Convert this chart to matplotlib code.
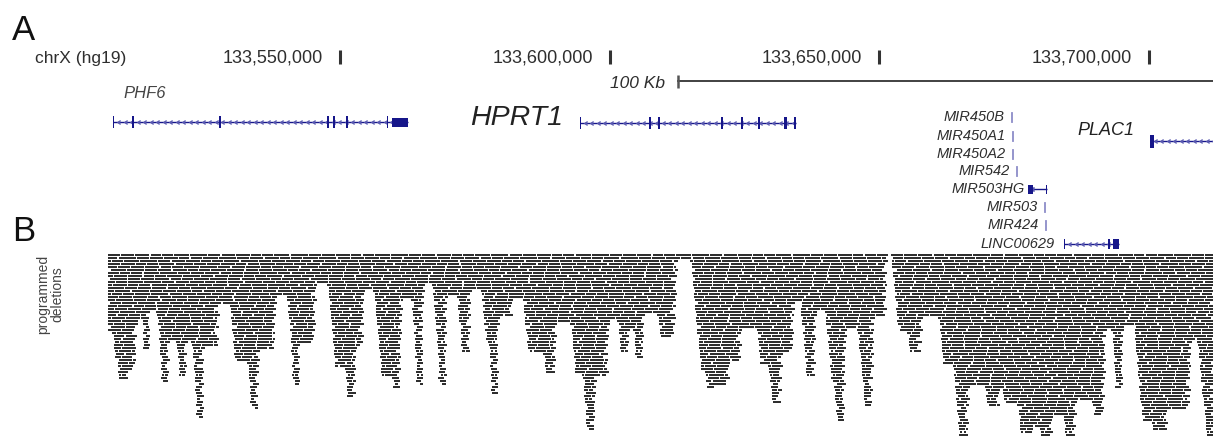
import numpy as np
import matplotlib.pyplot as plt

plt.rcParams['font.family'] = ['Liberation Sans', 'DejaVu Sans']

# ---- genomic window (chrX, hg19, in kb) ----
VIEW_KB = (133486.97, 133711.85)
KB_PER_PX = (VIEW_KB[1] - VIEW_KB[0]) / 1213

tick_kb = [133550, 133600, 133650, 133700]
tick_labels = ["133,550,000", "133,600,000", "133,650,000", "133,700,000"]
scalebar_kb = (133612.6, 133712.6)   # 100 Kb

# ---- genes (kb) ----
phf6_span = (133507.92, 133562.61)
phf6_exons = [(133507.92, 133508.15), (133511.45, 133511.82), (133527.58, 133527.95),
              (133547.60, 133547.97), (133548.70, 133549.07), (133551.10, 133551.45),
              (133558.75, 133558.95)]
phf6_utr = [(133559.64, 133562.61)]

hprt1_span = (133594.45, 133634.50)
hprt1_exons = [(133594.45, 133594.75), (133607.30, 133607.65), (133608.95, 133609.30),
               (133620.65, 133620.95), (133624.40, 133624.70), (133627.50, 133627.80),
               (133632.35, 133632.95), (133634.20, 133634.50)]

plac1_span = (133700.17, 133713.0)
plac1_exons = [(133700.17, 133700.91)]

mir503hg_span = (133677.55, 133681.07)
mir503hg_exons = [(133677.55, 133678.48), (133680.85, 133681.07)]

linc_span = (133684.23, 133694.42)
linc_exons = [(133684.23, 133684.40), (133692.40, 133692.70), (133693.30, 133694.42)]

mir_names = ["MIR450B", "MIR450A1", "MIR450A2", "MIR542", "MIR503", "MIR424"]
mir_kb = [133674.58, 133674.77, 133674.77, 133675.51, 133680.70, 133680.89]

# ---- programmed deletions: packed depth (rows) between breakpoints (kb) ----
del_edges_kb = [133506.99, 133507.73, 133508.66, 133511.07, 133512.55, 133513.48,
                133514.78, 133515.89, 133518.49, 133519.60, 133521.82, 133522.38,
                133524.97, 133527.76, 133529.61, 133532.76, 133535.17, 133538.32,
                133540.18, 133542.59, 133545.74, 133547.59, 133550.93, 133553.15,
                133554.64, 133556.12, 133559.64, 133561.68, 133563.17, 133565.76,
                133567.06, 133570.02, 133571.69, 133574.47, 133576.14, 133577.44,
                133579.67, 133582.08, 133583.93, 133587.64, 133590.23, 133592.64,
                133594.87, 133597.65, 133600.06, 133601.36, 133603.77, 133604.32,
                133606.55, 133608.77, 133612.66, 133614.89, 133617.67, 133619.89,
                133622.30, 133624.53, 133627.31, 133629.35, 133632.13, 133634.36,
                133635.28, 133638.43, 133639.92, 133641.40, 133644.00, 133645.85,
                133649.19, 133651.60, 133652.15, 133655.12, 133658.09, 133660.87,
                133663.65, 133666.80, 133669.58, 133672.36, 133672.92, 133675.51,
                133678.48, 133679.78, 133682.19, 133684.04, 133686.64, 133689.42,
                133692.20, 133692.94, 133695.35, 133697.02, 133700.54, 133703.51,
                133707.95, 133708.88, 133711.85]
del_rows = [26, 35, 42, 39, 22, 32, 19, 43, 29, 41, 29, 55, 31, 17, 36, 52, 32, 14,
            44, 30, 10, 38, 48, 31, 12, 41, 45, 15, 44, 10, 44, 14, 33, 12, 29, 47,
            21, 15, 33, 40, 23, 40, 59, 41, 22, 33, 25, 35, 20, 28, 2, 39, 45, 44,
            36, 25, 37, 50, 33, 16, 41, 19, 42, 56, 25, 51, 21, 0, 26, 33, 21, 37,
            61, 44, 51, 45, 50, 60, 58, 61, 54, 61, 49, 54, 25, 45, 24, 56, 59, 52,
            29, 61]

GENE_C = '#16168a'
CHEV_C = '#5858b0'
MIR_C = '#8c8cc8'
TXT_C = '#2e2e2e'

fig = plt.figure(figsize=(12.13, 4.39), dpi=100)
ax = fig.add_axes([0, 0, 1, 1])
ax.set_xlim(VIEW_KB)
ax.set_ylim(439, 0)
ax.axis('off')


def px(n):
    return n * KB_PER_PX


def draw_gene(span, exons, y, utr=(), tall=12, short=9, chev=True):
    ax.plot(span, [y, y], color=GENE_C, lw=1.0, solid_capstyle='butt', zorder=2)
    if chev:
        xs = np.arange(span[0] + px(4), span[1] - px(2), px(6.5))
        ax.plot(xs, np.full_like(xs, y), ls='none', marker=4, ms=3.2,
                mew=0.7, color=CHEV_C, zorder=2)
    for s, e in exons:
        ax.add_patch(plt.Rectangle((s, y - tall / 2), e - s, tall,
                                   color=GENE_C, lw=0, zorder=3))
    for s, e in utr:
        ax.add_patch(plt.Rectangle((s, y - short / 2), e - s, short,
                                   color=GENE_C, lw=0, zorder=3))


# ---- panel labels and header ----
fig.text(12 / 1213, 1 - 30 / 439, "A", fontsize=25, color='#111', va='center')
fig.text(12 / 1213, 1 - 232 / 439, "B", fontsize=25, color='#111', va='center')
fig.text(35 / 1213, 1 - 58 / 439, "chrX (hg19)", fontsize=12.5, color=TXT_C, va='center')

for t, lab in zip(tick_kb, tick_labels):
    ax.text(t - px(17), 58, lab, fontsize=13, color=TXT_C, ha='right', va='center')
    ax.plot([t, t], [51, 65], color='#333', lw=2.2, solid_capstyle='butt')

# scale bar
ax.plot(scalebar_kb, [82, 82], color='#333', lw=1.3)
for s in scalebar_kb:
    ax.plot([s, s], [76, 89], color='#555', lw=1.8, solid_capstyle='butt')
ax.text(scalebar_kb[0] - px(13), 83, "100 Kb", fontsize=12.5, style='italic',
        color=TXT_C, ha='right', va='center')

# ---- genes ----
draw_gene(phf6_span, phf6_exons, 123, utr=phf6_utr)
ax.text(phf6_span[0] + px(10), 93, "PHF6", fontsize=12, style='italic',
        color='#444', ha='left', va='center')

draw_gene(hprt1_span, hprt1_exons, 124)
ax.text(hprt1_span[0] - px(17), 118, "HPRT1", fontsize=20.5, style='italic',
        color='#222', ha='right', va='center')

draw_gene(plac1_span, plac1_exons, 142, tall=13)
ax.text(plac1_span[0] - px(16), 131, "PLAC1", fontsize=13, style='italic',
        color='#222', ha='right', va='center')

mir_y = [118, 137, 155, 172, 208, 226]
for name, k, y in zip(mir_names, mir_kb, mir_y):
    ax.plot([k, k], [y - 4.5, y + 4.5], color=MIR_C, lw=1.3)
    ax.text(k - px(7), y - 1, name, fontsize=10.5, style='italic', color=TXT_C,
            ha='right', va='center')

draw_gene(mir503hg_span, mir503hg_exons, 190, tall=9, chev=False)
ax.plot([mir503hg_span[0] + px(3)], [190], ls='none', marker=4, ms=3,
        color=CHEV_C)
ax.text(mir503hg_span[0] - px(3), 189, "MIR503HG", fontsize=10.5, style='italic',
        color=TXT_C, ha='right', va='center')

draw_gene(linc_span, linc_exons, 245, tall=10)
ax.text(linc_span[0] - px(9), 244, "LINC00629", fontsize=10.5, style='italic',
        color=TXT_C, ha='right', va='center')

# ---- programmed deletions track ----
fig.text(50 / 1213, 1 - 294 / 439, "programmed\ndeletions", fontsize=10,
         color='#444', rotation=90, ha='center', va='center', linespacing=1.0)

edges = np.array(del_edges_kb)
rows = np.array(del_rows)
bar_cycle = [px(v) for v in (12, 15, 10, 13, 17, 11, 14)]
rag_cycle = [px(v) for v in (0, 2.5, 1, 3.5, 0.5, 2, 4, 1.5)]   # ragged bar ends
bar_gap = px(1.2)
taper_l, taper_r, min_w = px(0.28), px(0.08), px(6)
n = len(rows)
for r in range(rows.max()):
    active = rows > r
    segs = []
    i = 0
    while i < n:
        if not active[i]:
            i += 1
            continue
        j = i
        while j + 1 < n and active[j + 1]:
            j += 1
        a, b = edges[i], edges[j + 1]
        # icicle shape: rows below a shallower neighbour step inwards
        dl = rows[i - 1] if i > 0 else r
        dr = rows[j + 1] if j + 1 < n else r
        a2 = a + taper_l * max(0, r - dl)
        b2 = b - taper_r * max(0, r - dr)
        if r > dr and j + 1 < n:
            b2 -= rag_cycle[(r + 3 * j) % len(rag_cycle)]
        if r > dl and i > 0:
            a2 += 0.5 * rag_cycle[(2 * r + i) % len(rag_cycle)]
        if b2 - a2 < min_w:
            mid = 0.5 * (a2 + b2)
            a2, b2 = max(a, mid - min_w / 2), min(b, mid + min_w / 2)
        k = r % len(bar_cycle)
        s = a2 - ((r * 0.37) % 1.0) * bar_cycle[k]
        while s < b2:
            L = bar_cycle[k % len(bar_cycle)]
            lo, hi = max(s, a2), min(s + L, b2)
            if hi - lo > px(2):
                segs.append((lo, hi - lo))
            s += L + bar_gap
            k += 3
        i = j + 1
    ax.broken_barh(segs, (255 + 3 * r, 2.4), facecolors='#2f2f2f', lw=0)

fig.savefig("out.png", dpi=100)
